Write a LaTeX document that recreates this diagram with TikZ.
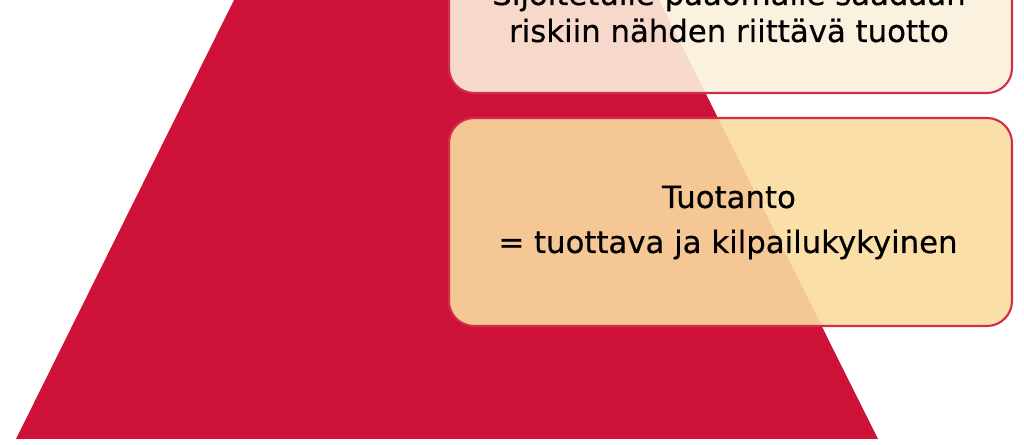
\documentclass[tikz,border=0pt]{standalone}
\usepackage{fontspec}
\setmainfont{DejaVu Sans}[FakeBold=0.5]
\usepackage{tikz}
\definecolor{pyramidred}{RGB}{206,17,56}
\definecolor{boxline}{RGB}{210,45,75}
\definecolor{topfill}{RGB}{251,239,220}
\definecolor{lowfill}{RGB}{250,219,158}
\tikzset{
textline/.style={anchor=base, text=black, inner sep=0pt, font=\fontsize{17.5}{20}\selectfont}, % one line of box text
levelbox/.style={draw=boxline, line width=1.2pt, rounded corners=5mm, fill opacity=0.9}, % the rounded boxes
}

\begin{document}
\begin{tikzpicture}[x=0.2mm, y=0.2mm]
\useasboundingbox (0,0) rectangle (1024,445);
\clip (0,0) rectangle (1024,445);
% pyramid
\fill[pyramidred] (16,6) -- (878,6) -- (659,445) -- (234,445) -- cycle;
% boxes
\draw[levelbox, fill=topfill] (449,352) rectangle (1012,540);
\draw[levelbox, fill=lowfill] (449,119) rectangle (1012,327);
% texts
\node[textline] (sijoitus1) at (729,440) {Sijoitetulle pääomalle saadaan};
\node[textline] (sijoitus2) at (729,403) {riskiin nähden riittävä tuotto};
\node[textline] (tuotanto1) at (729,237) {Tuotanto};
\node[textline] (tuotanto2) at (728,192) {= tuottava ja kilpailukykyinen};
\end{tikzpicture}
\end{document}
